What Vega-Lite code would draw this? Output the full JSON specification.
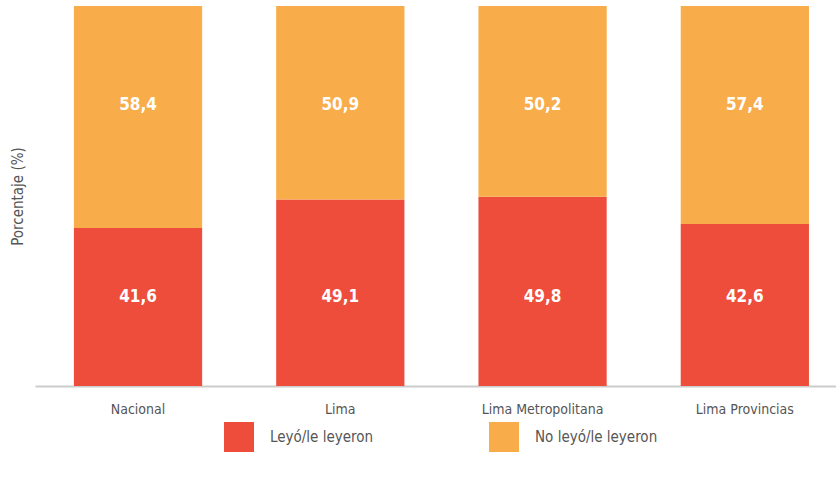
{
  "$schema": "https://vega.github.io/schema/vega-lite/v6.json",
  "width": 801,
  "height": 380,
  "autosize": {"type": "none"},
  "padding": {"left": 35, "top": 6, "right": 0, "bottom": 95},
  "config": {
    "view": {"stroke": null},
    "font": "DejaVu Sans Condensed",
    "locale": {"number": {"decimal": ",", "thousands": ".", "grouping": [3], "currency": ["", ""]}}
  },
  "data": {
    "values": [
      {"ambito": "Nacional", "grupo": "Leyó/le leyeron", "orden": 1, "valor": 41.6},
      {"ambito": "Nacional", "grupo": "No leyó/le leyeron", "orden": 2, "valor": 58.4},
      {"ambito": "Lima", "grupo": "Leyó/le leyeron", "orden": 1, "valor": 49.1},
      {"ambito": "Lima", "grupo": "No leyó/le leyeron", "orden": 2, "valor": 50.9},
      {"ambito": "Lima Metropolitana", "grupo": "Leyó/le leyeron", "orden": 1, "valor": 49.8},
      {"ambito": "Lima Metropolitana", "grupo": "No leyó/le leyeron", "orden": 2, "valor": 50.2},
      {"ambito": "Lima Provincias", "grupo": "Leyó/le leyeron", "orden": 1, "valor": 42.6},
      {"ambito": "Lima Provincias", "grupo": "No leyó/le leyeron", "orden": 2, "valor": 57.4}
    ]
  },
  "transform": [
    {"stack": "valor", "groupby": ["ambito"], "sort": [{"field": "orden", "order": "ascending"}], "as": ["y0", "y1"]}
  ],
  "encoding": {
    "x": {
      "field": "ambito", "type": "nominal",
      "sort": ["Nacional", "Lima", "Lima Metropolitana", "Lima Provincias"],
      "scale": {"paddingInner": 0.366, "paddingOuter": 0.163, "align": 0.59},
      "axis": {
        "title": null, "labelAngle": 0, "ticks": false,
        "domainColor": "#cccccc", "domainWidth": 2,
        "labelColor": "#555555", "labelFontSize": 14, "labelPadding": 16
      }
    }
  },
  "layer": [
    {
      "mark": {"type": "bar"},
      "encoding": {
        "y": {
          "field": "y0", "type": "quantitative",
          "scale": {"domain": [0, 100], "nice": false},
          "axis": {
            "title": "Porcentaje (%)", "titleColor": "#555555", "titleFontSize": 15, "titleFontWeight": "normal",
            "labels": false, "ticks": false, "domain": false, "grid": false, "titlePadding": 10
          }
        },
        "y2": {"field": "y1"},
        "color": {
          "field": "grupo", "type": "nominal",
          "scale": {"domain": ["Leyó/le leyeron", "No leyó/le leyeron"], "range": ["#EF4D3C", "#F9AC4A"]},
          "legend": {
            "title": null, "orient": "none", "direction": "horizontal",
            "legendX": 189, "legendY": 416,
            "symbolType": "square", "symbolSize": 900, "symbolStrokeWidth": 0, "symbolOpacity": 1,
            "labelFontSize": 15, "labelColor": "#555555", "labelOffset": 16,
            "columnPadding": 115
          }
        }
      }
    },
    {
      "transform": [{"filter": "datum.orden == 1"}],
      "mark": {"type": "text", "color": "white", "fontWeight": "bold", "fontSize": 17, "baseline": "middle"},
      "encoding": {
        "y": {"datum": 23.4, "type": "quantitative"},
        "text": {"field": "valor", "type": "quantitative", "format": ".1f"}
      }
    },
    {
      "transform": [{"filter": "datum.orden == 2"}],
      "mark": {"type": "text", "color": "white", "fontWeight": "bold", "fontSize": 17, "baseline": "middle"},
      "encoding": {
        "y": {"datum": 74, "type": "quantitative"},
        "text": {"field": "valor", "type": "quantitative", "format": ".1f"}
      }
    }
  ]
}
